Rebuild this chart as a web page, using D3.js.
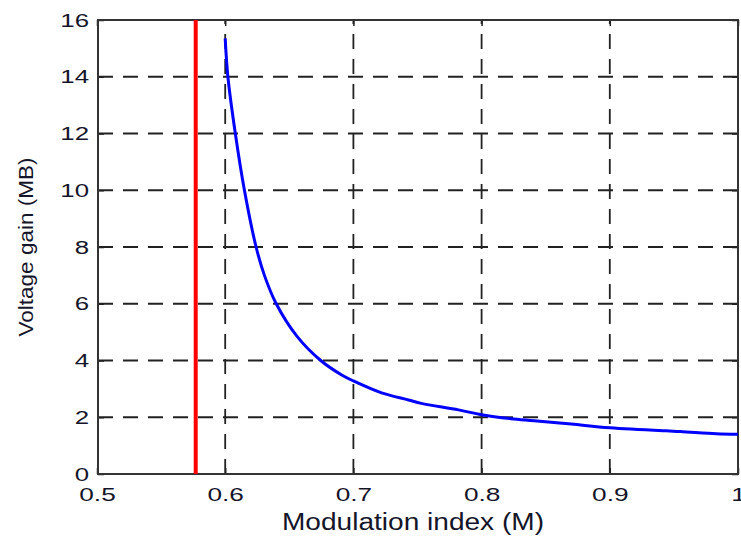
<!DOCTYPE html>
<html>
<head>
<meta charset="utf-8">
<script src="https://cdn.jsdelivr.net/npm/d3@7"></script>
<style>
  body { margin: 0; background: white; }
  text { font-family: "Liberation Sans", Arial, sans-serif; fill: #15152a; }
</style>
</head>
<body>
<div id="container"></div>
<script>
// values
const gainM = [0.600, 0.6021, 0.6079, 0.6150, 0.6241, 0.6306, 0.6398, 0.6562, 0.6745, 0.6909,
               0.700, 0.722, 0.743, 0.753, 0.782, 0.800, 0.823, 0.841, 0.870, 0.900,
               0.944, 0.955, 0.983, 1.000];
const gainG = [15.35, 14.0, 12.0, 10.0, 8.0, 7.0, 6.0, 4.84, 4.0, 3.49,
               3.28, 2.86, 2.61, 2.49, 2.26, 2.09, 1.95, 1.88, 1.76, 1.63,
               1.52, 1.50, 1.42, 1.40];
const limitM = 0.577;
const xTicks = [0.5, 0.6, 0.7, 0.8, 0.9, 1];
const xTickLabels = ["0.5", "0.6", "0.7", "0.8", "0.9", "1"];
const yTicks = [0, 2, 4, 6, 8, 10, 12, 14, 16];

let w = 741;
let h = 536;
let pLeft = 98, pRight = 738, pTop = 20, pBottom = 474;

let viz = d3.select("#container").append("svg")
    .attr("width", w)
    .attr("height", h)
    .style("display", "block");

let x = d3.scaleLinear().domain([0.5, 1]).range([pLeft - 1, pRight]);
let y = d3.scaleLinear().domain([0, 16]).range([pBottom, pTop]);

// dashed grid
let grid = viz.append("g")
    .attr("stroke", "#222")
    .attr("stroke-width", 1.8)
    .attr("stroke-dasharray", "15,10");

grid.selectAll(".vgrid").data(xTicks.slice(1, -1)).enter()
  .append("line")
    .attr("x1", d => x(d)).attr("x2", d => x(d))
    .attr("y1", pBottom).attr("y2", pTop);

grid.selectAll(".hgrid").data(yTicks.slice(1, -1)).enter()
  .append("line")
    .attr("x1", pLeft).attr("x2", pRight)
    .attr("y1", d => y(d)).attr("y2", d => y(d));

// axes, ticks pointing inwards like matlab
let xAxis = viz.append("g")
    .attr("transform", "translate(0," + pBottom + ")")
    .call(d3.axisBottom(x).tickValues(xTicks)
      .tickFormat((d, i) => xTickLabels[i])
      .tickSizeInner(-6).tickSizeOuter(0).tickPadding(14));

let yAxis = viz.append("g")
    .attr("transform", "translate(" + pLeft + ",0)")
    .call(d3.axisLeft(y).tickValues(yTicks)
      .tickSizeInner(-6).tickSizeOuter(0));

viz.append("g")
    .attr("transform", "translate(0," + pTop + ")")
    .call(d3.axisTop(x).tickValues(xTicks).tickFormat("")
      .tickSizeInner(-6).tickSizeOuter(0));

viz.append("g")
    .attr("transform", "translate(" + pRight + ",0)")
    .call(d3.axisRight(y).tickValues(yTicks).tickFormat("")
      .tickSizeInner(-6).tickSizeOuter(0));

viz.selectAll(".domain").remove();
viz.selectAll(".tick line").attr("stroke", "#222").attr("stroke-width", 1.5);

// box
viz.append("rect")
    .attr("x", pLeft).attr("y", pTop)
    .attr("width", pRight - pLeft).attr("height", pBottom - pTop)
    .attr("fill", "none")
    .attr("stroke", "#333")
    .attr("stroke-width", 2);

// tick labels are drawn wide in the picture
viz.selectAll(".tick text")
    .style("font-size", "19px")
    .attr("fill", "#15152a");
xAxis.selectAll(".tick text").attr("transform", "scale(1.38,1)");
yAxis.selectAll(".tick text").attr("x", 0).attr("transform", "translate(-9,0) scale(1.36,1)");

// red limit line
viz.append("line")
    .attr("x1", x(limitM)).attr("x2", x(limitM))
    .attr("y1", pTop).attr("y2", pBottom)
    .attr("stroke", "#ff0000")
    .attr("stroke-width", 4);

// gain curve
let lineMaker = d3.line()
    .x((d, i) => x(gainM[i]))
    .y(d => y(d))
    .curve(d3.curveCatmullRom.alpha(0.5));

viz.append("path")
    .datum(gainG)
    .attr("d", lineMaker)
    .attr("fill", "none")
    .attr("stroke", "#0000ff")
    .attr("stroke-width", 3);

// titles
viz.append("text")
    .attr("x", 413).attr("y", 530)
    .attr("text-anchor", "middle")
    .attr("textLength", 262).attr("lengthAdjust", "spacingAndGlyphs")
    .style("font-size", "23px")
    .text("Modulation index (M)");

viz.append("text")
    .attr("transform", "translate(33,247) rotate(-90)")
    .attr("text-anchor", "middle")
    .attr("textLength", 179).attr("lengthAdjust", "spacingAndGlyphs")
    .style("font-size", "21px")
    .text("Voltage gain (MB)");
</script>
</body>
</html>
